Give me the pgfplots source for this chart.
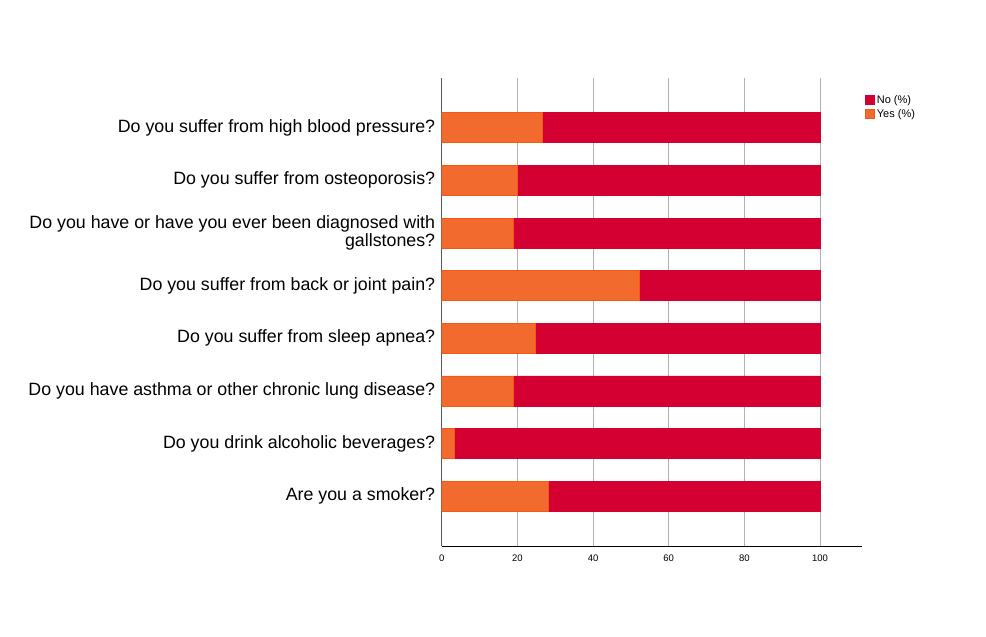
\documentclass[border=0pt]{standalone}
\usepackage{fontspec}
\setmainfont{Liberation Sans}
\usepackage{pgfplots}
\pgfplotsset{compat=1.18}
\definecolor{nored}{HTML}{D50032}
\definecolor{yesor}{HTML}{F26A2E}
\definecolor{yesedge}{HTML}{F25A14}
\begin{document}
\begin{tikzpicture}
\path (-441.7pt,-91pt) rectangle (544.3pt,546pt);
\begin{axis}[
  scale only axis, width=420pt, height=468pt,
  at={(0,0)}, anchor=south west,
  xbar stacked, bar width=30pt,
  xmin=0, xmax=111, ymin=-0.944, ymax=7.944,
  xtick={0,20,...,100}, ytick={0,...,7},
  yticklabels={Are you a smoker?, Do you drink alcoholic beverages?, Do you have asthma or other chronic lung disease?, Do you suffer from sleep apnea?, Do you suffer from back or joint pain?, {Do you have or have you ever been diagnosed with\\gallstones?}, Do you suffer from osteoporosis?, Do you suffer from high blood pressure?},
  axis x line*=bottom, axis y line*=left,
  axis line style={-},
  x axis line style={black, line width=0.8pt},
  y axis line style={black!65, line width=0.8pt},
  major tick length=0pt,
  xmajorgrids, grid style={line width=0.8pt, color=black!30},
  /pgf/number format/assume math mode=true,
  xticklabel style={font=\fontsize{9.5}{11}\selectfont, yshift=-5pt},
  yticklabel style={font=\fontsize{17.8}{18}\selectfont, align=right, xshift=-3pt},
  legend style={at={(axis description cs:1.008,0.968)}, anchor=north west, draw=none, fill=none, font=\fontsize{11}{13}\selectfont, row sep=0.5pt, inner sep=0pt, legend cell align=left},
  reverse legend,
  legend image code/.code={\draw[#1,line width=0.6pt] (0pt,-4.5pt) rectangle (9pt,4.5pt);},
]
\addplot[fill=yesor, draw=yesedge, line width=0.6pt] coordinates {
  (28.3,0) (3.4,1) (19.0,2) (24.8,3) (52.3,4) (18.9,5) (20.0,6) (26.6,7)};
\addplot[fill=nored, draw=nored, line width=0.6pt] coordinates {
  (71.7,0) (96.6,1) (81.0,2) (75.2,3) (47.7,4) (81.1,5) (80.0,6) (73.4,7)};
\legend{Yes (\%), No (\%)}
\end{axis}
\end{tikzpicture}
\end{document}
